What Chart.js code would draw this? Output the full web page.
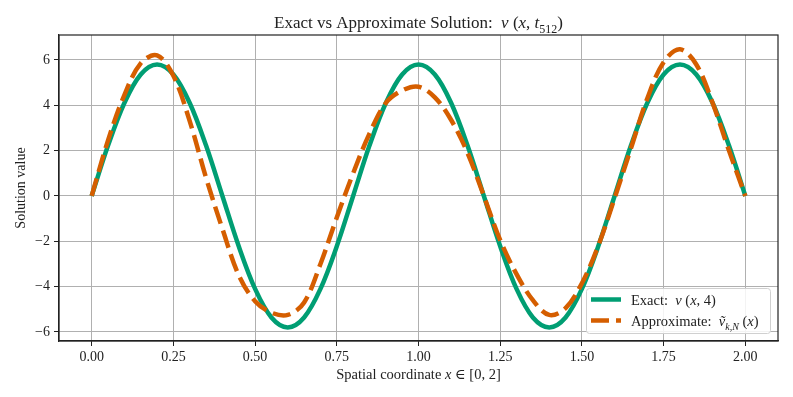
<!DOCTYPE html>
<html>
<head>
<meta charset="utf-8">
<script src="https://cdn.jsdelivr.net/npm/chart.js@4.4.1/dist/chart.umd.min.js"></script>
<style>
  html, body { margin: 0; padding: 0; background: #fff; }
  #wrap { width: 793px; height: 397px; }
</style>
</head>
<body>
<div id="wrap"><canvas id="myChart" width="793" height="397"></canvas></div>
<script>
// sample positions along x (step 0.05)
const xValues = [
  0.00, 0.05, 0.10, 0.15, 0.20, 0.25, 0.30, 0.35, 0.40, 0.45,
  0.50, 0.55, 0.60, 0.65, 0.70, 0.75, 0.80, 0.85, 0.90, 0.95,
  1.00, 1.05, 1.10, 1.15, 1.20, 1.25, 1.30, 1.35, 1.40, 1.45,
  1.50, 1.55, 1.60, 1.65, 1.70, 1.75, 1.80, 1.85, 1.90, 1.95, 2.00
];
// exact solution
const exactValues = [
  0, 2.22, 4.10, 5.36, 5.80, 5.36, 4.10, 2.22, 0, -2.22,
  -4.10, -5.36, -5.80, -5.36, -4.10, -2.22, 0, 2.22, 4.10, 5.36,
  5.80, 5.36, 4.10, 2.22, 0, -2.22, -4.10, -5.36, -5.80, -5.36,
  -4.10, -2.22, 0, 2.22, 4.10, 5.36, 5.80, 5.36, 4.10, 2.22, 0
];
// approximate solution
const approxValues = [
  0, 2.45, 4.45, 5.85, 6.20, 5.30, 3.30, 0.80, -1.45, -3.50,
  -4.65, -5.15, -5.25, -4.70, -3.00, -0.95, 1.00, 2.75, 4.10, 4.65,
  4.82, 4.35, 3.35, 1.90, 0.00, -1.95, -3.45, -4.60, -5.25, -4.95,
  -3.85, -2.20, -0.10, 2.10, 4.30, 5.90, 6.47, 5.80, 4.10, 2.00, 0
];
const xTicks = [0, 0.25, 0.5, 0.75, 1.0, 1.25, 1.5, 1.75, 2.0];
const yTicks = [-6, -4, -2, 0, 2, 4, 6];

const SERIF = '"Liberation Serif", "DejaVu Serif", serif';
const GREEN = "#009E73";
const ORANGE = "#D55E00";
const TEXT = "#222";

// text pieces: [text, flags] where flags: i = italic, s = subscript
const titleRuns = [["Exact vs Approximate Solution:  "], ["v", "i"], [" ("], ["x", "i"], [", "], ["t", "i"], ["512", "s"], [")"]];
const xLabelRuns = [["Spatial coordinate "], ["x", "i"], [" \u2208 [0, 2]"]];
const yLabelRuns = [["Solution value"]];
const legendRuns = [
  [["Exact:  "], ["v", "i"], [" ("], ["x", "i"], [", 4)"]],
  [["Approximate:  "], ["v\u0303", "i"], ["k,N", "is"], [" ("], ["x", "i"], [")"]]
];

function drawRuns(ctx, runs, x, y, size, align) {
  const fontFor = (f) => (f.includes("i") ? "italic " : "") + (f.includes("s") ? Math.round(size * 0.7) : size) + "px " + SERIF;
  let total = 0;
  const widths = runs.map(([t, f = ""]) => {
    ctx.font = fontFor(f);
    const w = ctx.measureText(t).width;
    total += w;
    return w;
  });
  let cx = align === "center" ? x - total / 2 : x;
  ctx.textAlign = "left";
  ctx.textBaseline = "alphabetic";
  ctx.fillStyle = TEXT;
  runs.forEach(([t, f = ""], i) => {
    ctx.font = fontFor(f);
    ctx.fillText(t, cx, y + (f.includes("s") ? size * 0.28 : 0));
    cx += widths[i];
  });
}

const decorations = {
  id: "decorations",
  afterDraw(chart) {
    const ctx = chart.ctx;
    const a = chart.chartArea;
    ctx.save();
    // frame around plot
    ctx.strokeStyle = TEXT;
    ctx.lineWidth = 1.2;
    ctx.strokeRect(a.left, a.top, a.right - a.left, a.bottom - a.top);

    // title and axis labels
    drawRuns(ctx, titleRuns, (a.left + a.right) / 2, 28, 17, "center");
    drawRuns(ctx, xLabelRuns, (a.left + a.right) / 2, 379, 14.5, "center");
    ctx.save();
    ctx.translate(25, (a.top + a.bottom) / 2);
    ctx.rotate(-Math.PI / 2);
    drawRuns(ctx, yLabelRuns, 0, 0, 14, "center");
    ctx.restore();

    // legend
    const lx = a.right - 191.5, ly = a.bottom - 52.5, lw = 184, lh = 45;
    ctx.beginPath();
    ctx.roundRect(lx, ly, lw, lh, 3);
    ctx.fillStyle = "rgba(255,255,255,0.85)";
    ctx.fill();
    ctx.strokeStyle = "#d0d0d0";
    ctx.lineWidth = 1;
    ctx.stroke();
    const colors = [GREEN, ORANGE];
    const dashes = [[], [18, 7]];
    legendRuns.forEach((runs, i) => {
      const ry = ly + 11 + i * 21;
      ctx.beginPath();
      ctx.setLineDash(dashes[i]);
      ctx.strokeStyle = colors[i];
      ctx.lineWidth = 4.5;
      ctx.moveTo(lx + 4.5, ry);
      ctx.lineTo(lx + 34.5, ry);
      ctx.stroke();
      ctx.setLineDash([]);
      drawRuns(ctx, runs, lx + 44.5, ry + 5, 14.5, "left");
    });
    ctx.restore();
  }
};

const config = {
  type: "line",
  data: {
    datasets: [
      {
        label: "Exact: v (x, 4)",
        data: xValues.map((x, i) => ({ x: x, y: exactValues[i] })),
        borderColor: GREEN,
        borderWidth: 4.5,
        pointRadius: 0,
        tension: 0.35,
        order: 2
      },
      {
        label: "Approximate: \u1E7D k,N (x)",
        data: xValues.map((x, i) => ({ x: x, y: approxValues[i] })),
        borderColor: ORANGE,
        borderWidth: 4.5,
        borderDash: [18, 7],
        pointRadius: 0,
        tension: 0.35,
        order: 1
      }
    ]
  },
  options: {
    responsive: false,
    animation: false,
    devicePixelRatio: 1,
    layout: { padding: { left: 0, right: 15, top: 35, bottom: 0 } },
    plugins: {
      legend: { display: false },
      title: { display: false },
      tooltip: { enabled: false }
    },
    scales: {
      x: {
        type: "linear",
        min: -0.1,
        max: 2.1,
        afterBuildTicks: (s) => { s.ticks = xTicks.map((v) => ({ value: v })); },
        afterFit: (s) => { s.height = 56; },
        ticks: {
          callback: (v) => v.toFixed(2),
          font: { family: SERIF, size: 14 },
          color: TEXT,
          padding: 3,
          maxRotation: 0,
          autoSkip: false
        },
        grid: { color: "#b0b0b0", lineWidth: 1, tickLength: 5, tickColor: TEXT },
        border: { color: TEXT, width: 1.2 }
      },
      y: {
        type: "linear",
        min: -6.4,
        max: 7.1,
        afterBuildTicks: (s) => { s.ticks = yTicks.map((v) => ({ value: v })); },
        afterFit: (s) => { s.width = 59; },
        ticks: {
          callback: (v) => (v < 0 ? "\u2212" + Math.abs(v) : String(v)),
          font: { family: SERIF, size: 14 },
          color: TEXT,
          padding: 4
        },
        grid: { color: "#b0b0b0", lineWidth: 1, tickLength: 5, tickColor: TEXT },
        border: { color: TEXT, width: 1.2 }
      }
    }
  },
  plugins: [decorations]
};

const ctx = document.getElementById("myChart").getContext("2d");
new Chart(ctx, config);
</script>
</body>
</html>
